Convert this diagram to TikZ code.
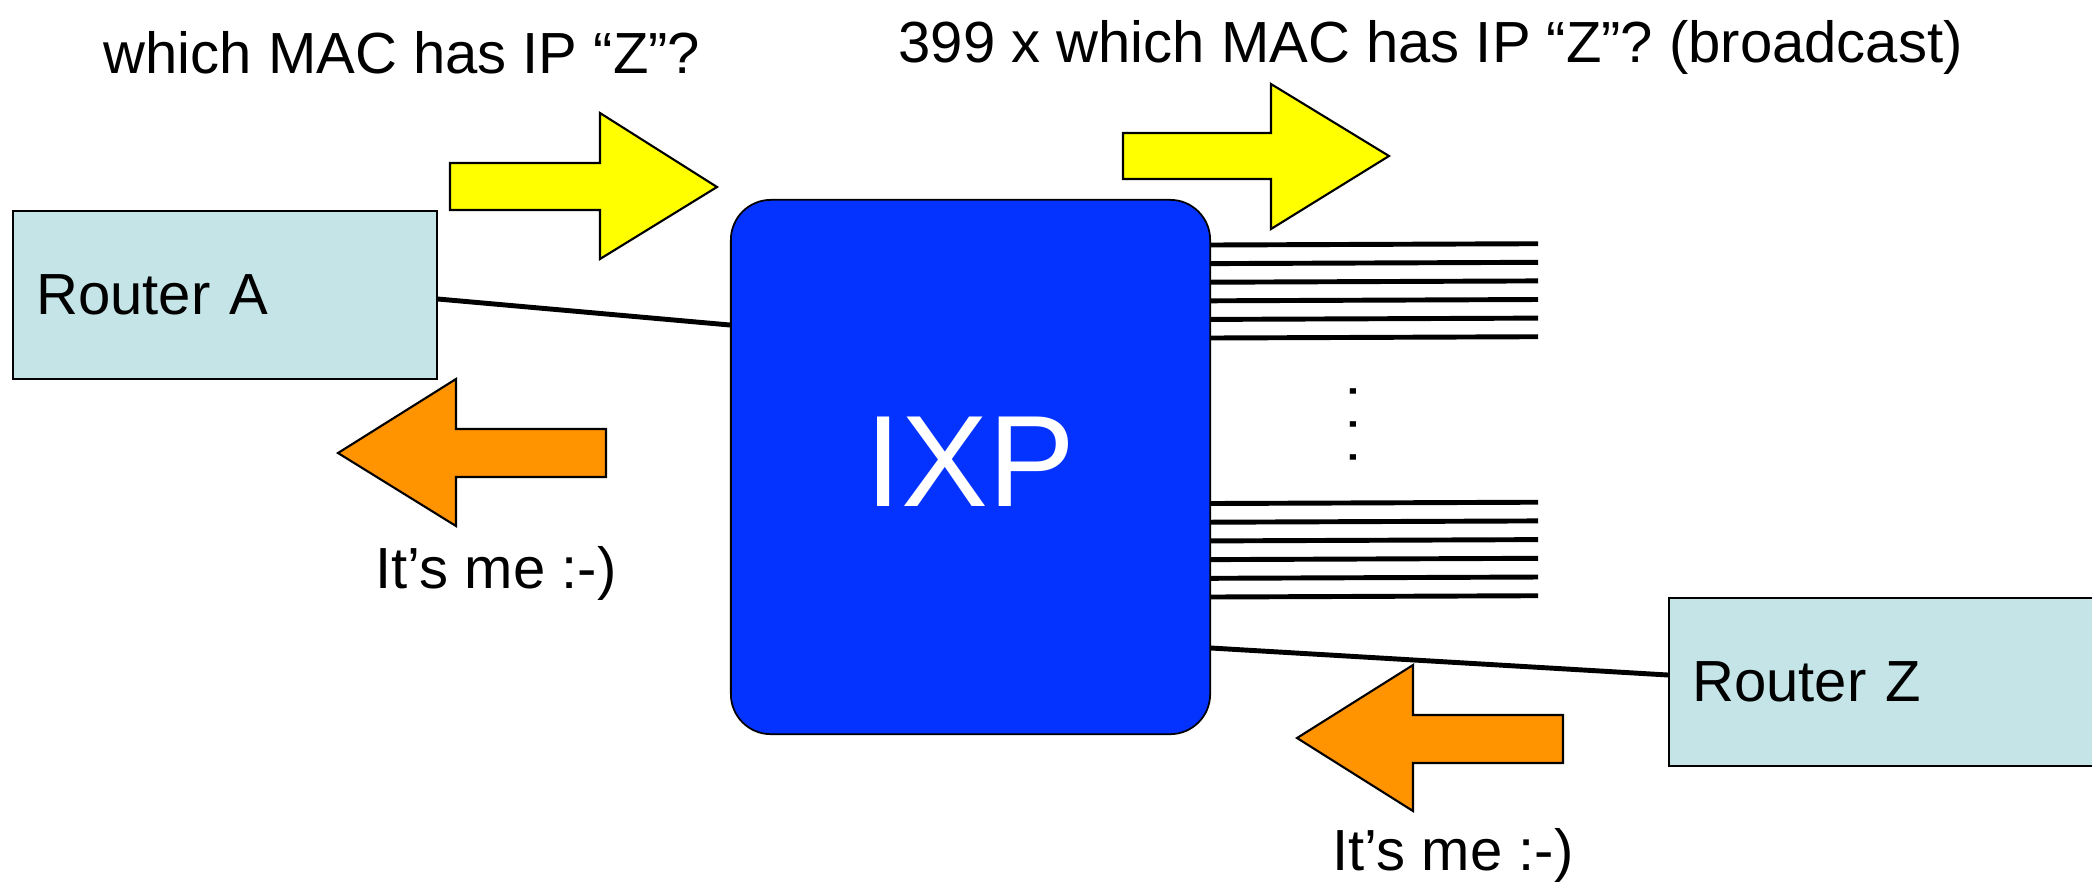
\documentclass[tikz,border=0pt]{standalone}
\usepackage{fontspec}
\setmainfont{Liberation Sans}
\usetikzlibrary{calc}

\definecolor{ixpblue}{RGB}{4,51,255}
\definecolor{routercyan}{RGB}{196,228,231}
\definecolor{askyellow}{RGB}{255,255,0}
\definecolor{replyorange}{RGB}{255,147,0}

\begin{document}
\begin{tikzpicture}[x=0.01cm,y=-0.01cm,
  router node/.style={rectangle,draw,fill=routercyan,line width=0.5pt,
  text width=3.77cm,inner xsep=0.235cm,minimum height=1.68cm,align=left,
  font=\fontsize{16.5}{19.8}\selectfont},
  ixp node/.style={rectangle,rounded corners=0.4cm,draw,fill=ixpblue,
  line width=0.5pt,text=white,minimum width=4.79cm,minimum height=5.34cm,
  text depth=0.1cm,font=\fontsize{37}{44}\selectfont},
  label node/.style={anchor=base west,inner sep=0pt,
  font=\fontsize{16.5}{19.8}\selectfont},
  dots node/.style={inner sep=0pt,rotate=90,
  font=\fontsize{16.5}{19.8}\selectfont},
  link/.style={line width=1.4pt},
  ask arrow/.style={draw,fill=askyellow,line width=0.6pt,line join=miter},
  reply arrow/.style={draw,fill=replyorange,line width=0.6pt,line join=miter}]
  \useasboundingbox (0,0) rectangle (2092,884);
  \clip (0,0) rectangle (2092,884);

  \node[router node] (routerA) at (225,295) {Router A};
  \node[router node] (routerZ) at (1881,682) {Router Z};
  \node[ixp node] (ixp) at (970.5,467) {IXP};

  % links to the routers
  \draw[link] (routerA.east |- 0,299) -- (ixp.west |- 0,325);
  \draw[link] (ixp.east |- 0,648) -- (routerZ.west |- 0,675);

  % the other members of the IXP
  \foreach \y [count=\k] in {245,263.6,282.2,300.8,319.4,338,
    503.5,522.2,540.9,559.6,578.3,597}{
    \coordinate (member\k) at (1538,\y-1.3);
    \draw[link] (ixp.east |- 0,\y) -- (member\k);
  }
  \node[dots node] (dots) at (1353,424.5) {.\hspace{0.165cm}.\hspace{0.165cm}.};

  % request and answer arrows
  \filldraw[ask arrow] (450,163) -- (600,163) -- (600,113) -- (717,187)
    -- (600,259) -- (600,210) -- (450,210) -- cycle;
  \filldraw[ask arrow] (1123,133) -- (1271,133) -- (1271,84) -- (1389,156)
    -- (1271,229) -- (1271,179) -- (1123,179) -- cycle;
  \filldraw[reply arrow] (606,429) -- (456,429) -- (456,379) -- (338,453)
    -- (456,526) -- (456,477) -- (606,477) -- cycle;
  \filldraw[reply arrow] (1563,715) -- (1413,715) -- (1413,665) -- (1297,738)
    -- (1413,811) -- (1413,763) -- (1563,763) -- cycle;

  \node[label node] (askA) at (103,73) {which MAC has IP “Z”?};
  \node[label node] (askAll) at (898,62) {399 x which MAC has IP “Z”? (broadcast)};
  \node[label node] (replyA) at (375,588) {It’s me :-)};
  \node[label node] (replyZ) at (1332,870) {It’s me :-)};
\end{tikzpicture}
\end{document}
